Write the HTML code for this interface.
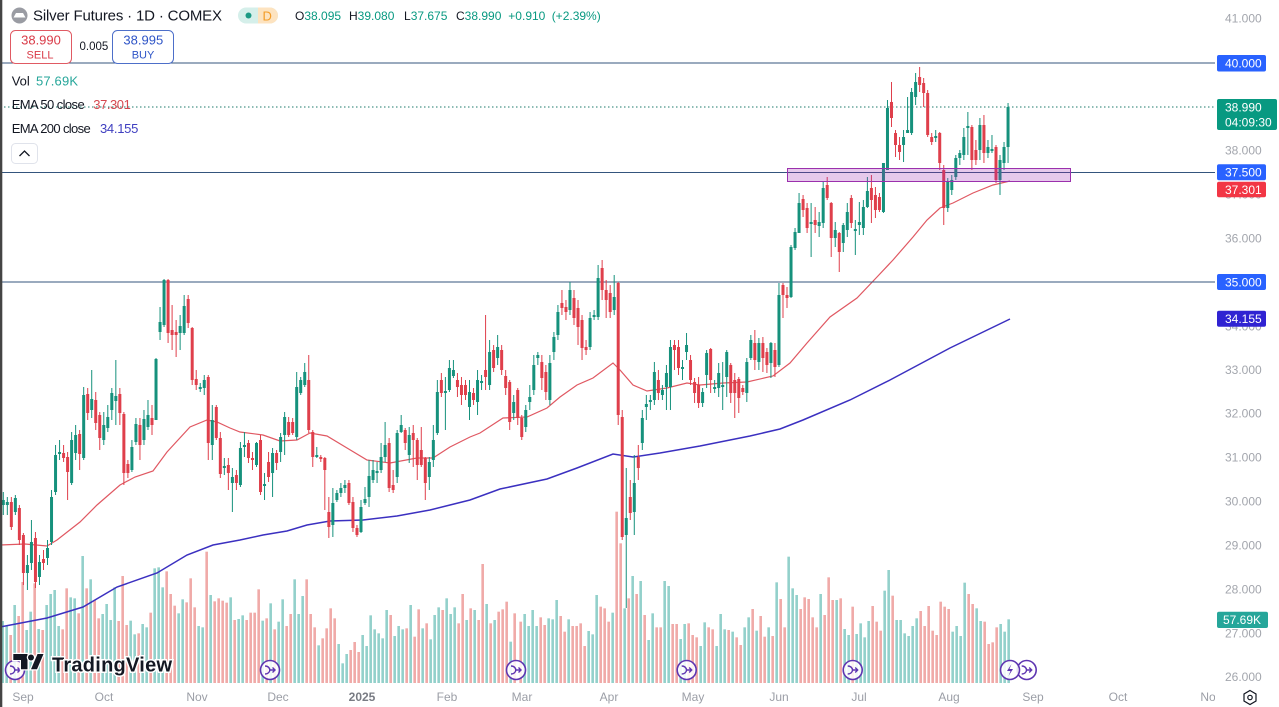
<!DOCTYPE html>
<html><head><meta charset="utf-8">
<style>
html,body{margin:0;padding:0;background:#fff;width:1279px;height:707px;overflow:hidden}
svg{display:block;font-family:"Liberation Sans",Arial,sans-serif}
</style></head><body>
<svg id="c" width="1279" height="707" viewBox="0 0 1279 707" xmlns="http://www.w3.org/2000/svg">
<defs>
<clipPath id="pane"><rect x="0" y="0" width="1215" height="684"/></clipPath>
<clipPath id="taxis"><rect x="0" y="684" width="1215" height="23"/></clipPath>
</defs>
<rect width="1279" height="707" fill="#fff"/>
<g id="vol" clip-path="url(#pane)"></g>
<g clip-path="url(#pane)" fill="none">
<polyline stroke="#3b30c0" stroke-width="1.5" points="0,627 47,618 83,607 117,587 157,573 187,555 213,545 240,540 263,535 287,531 307,525 330,521 363,520 397,516 430,510 450,505 470,500 500,489 547,479 577,468 613,454 633,457 660,453 700,446 750,436 780,429 803,420 850,400 890,380 950,348 1010,319"/>
<polyline stroke="#e05862" stroke-width="1.2" points="0,545 25,544 47,546 57,540 80,522 97,505 120,485 135,477 153,471 167,452 190,427 207,420 217,422 230,428 240,432 263,435 280,441 297,440 310,433 327,436 347,448 367,460 390,463 417,458 433,458 450,447 470,437 480,433 503,418 527,417 547,408 560,397 577,385 593,378 613,363 620,370 633,385 647,391 667,388 687,383 700,385 723,383 747,382 773,376 790,363 807,343 830,317 857,298 877,277 893,260 913,237 927,220 940,208 953,203 973,193 993,185 1010,181"/>
</g>
<g stroke="#34557d" stroke-width="1">
<line x1="0" x2="1215" y1="63" y2="63"/>
<line x1="0" x2="1215" y1="172.5" y2="172.5"/>
<line x1="0" x2="1215" y1="282" y2="282"/>
</g>
<line x1="0" x2="1215" y1="107" y2="107" stroke="#1e7a6b" stroke-width="1" stroke-dasharray="1.5 2.5"/>
<g id="cnd"></g>
<rect x="787.5" y="168.5" width="283" height="13" fill="rgba(156,39,176,0.25)" stroke="#9b30ad" stroke-width="1"/>

<!-- header -->
<circle cx="19.5" cy="15.5" r="8" fill="#9a9ca3"/>
<path d="M13.5 17.5 L16 13 H23 L25.5 17.5 Z" fill="#fff"/>
<text x="33" y="20.3" font-size="15" fill="#131722" textLength="189">Silver Futures · 1D · COMEX</text>
<rect x="238" y="7.5" width="40" height="16" rx="8" fill="#d5efea"/>
<path d="M258 7.5 H270 A8 8 0 0 1 270 23.5 H258 Z" fill="#fde3c0"/>
<circle cx="248.5" cy="15.5" r="3" fill="#1c9a84"/>
<text x="262.5" y="20.3" font-size="13" fill="#f39c28">D</text>
<g font-size="12">
<text x="295" y="19.8" fill="#131722">O<tspan fill="#089981">38.095</tspan></text>
<text x="349" y="19.8" fill="#131722">H<tspan fill="#089981">39.080</tspan></text>
<text x="404" y="19.8" fill="#131722">L<tspan fill="#089981">37.675</tspan></text>
<text x="456" y="19.8" fill="#131722">C<tspan fill="#089981">38.990</tspan></text>
<text x="508.3" y="19.8" fill="#089981">+0.910</text>
<text x="551.7" y="19.8" fill="#089981">(+2.39%)</text>
</g>
<rect x="10.5" y="30.5" width="61" height="33" rx="5" fill="#fff" stroke="#e05a63"/>
<text x="41" y="44.5" font-size="13" fill="#d93a47" text-anchor="middle">38.990</text>
<text x="40" y="58.3" font-size="11" fill="#d93a47" text-anchor="middle">SELL</text>
<text x="79.5" y="50" font-size="11.5" fill="#131722">0.005</text>
<rect x="112.5" y="30.5" width="61" height="33" rx="5" fill="#fff" stroke="#4d6fc9"/>
<text x="143.3" y="44.5" font-size="13" fill="#2f55c7" text-anchor="middle">38.995</text>
<text x="143" y="58.3" font-size="11" fill="#2f55c7" text-anchor="middle">BUY</text>

<!-- legend -->
<g font-size="13">
<text x="11.7" y="85.5" fill="#131722">Vol</text>
<text x="36" y="85.5" fill="#26a69a" textLength="42">57.69K</text>
<text x="11.7" y="109" fill="#131722" textLength="73">EMA 50 close</text>
<text x="93.3" y="109" fill="#d4484f" textLength="37.5">37.301</text>
<text x="11.7" y="133" fill="#131722" textLength="79">EMA 200 close</text>
<text x="100" y="133" fill="#3f3fc0" textLength="38.3">34.155</text>
</g>
<rect x="11.5" y="143.5" width="26" height="20" rx="4" fill="#fff" stroke="#e0e3eb"/>
<path d="M19.5 156 L24.5 151 L29.5 156" stroke="#131722" stroke-width="1.3" fill="none"/>

<!-- price axis -->
<g font-size="12" fill="#a3a6ad">
<text x="1225" y="22.6">41.000</text>
<text x="1225" y="154.5">38.000</text>
<text x="1225" y="198.3">37.000</text>
<text x="1225" y="242.3">36.000</text>
<text x="1225" y="330.3">34.000</text>
<text x="1225" y="374">33.000</text>
<text x="1225" y="417.6">32.000</text>
<text x="1225" y="461.5">31.000</text>
<text x="1225" y="505.5">30.000</text>
<text x="1225" y="549.5">29.000</text>
<text x="1225" y="593.5">28.000</text>
<text x="1225" y="637.5">27.000</text>
<text x="1225" y="680.8">26.000</text>
</g>
<g font-size="12" fill="#fff">
<rect x="1217" y="55" width="49" height="16.5" rx="2" fill="#2962ff"/>
<text x="1225" y="67.5">40.000</text>
<rect x="1217" y="99" width="60" height="31" rx="2" fill="#089981"/>
<text x="1225" y="111.3">38.990</text>
<text x="1225" y="126.3">04:09:30</text>
<rect x="1217" y="164.3" width="49" height="16" rx="2" fill="#2962ff"/>
<text x="1225" y="176.6">37.500</text>
<rect x="1217" y="181.7" width="49" height="15.6" rx="2" fill="#f23645"/>
<text x="1225" y="193.8">37.301</text>
<rect x="1217" y="274" width="49" height="16" rx="2" fill="#2962ff"/>
<text x="1225" y="286.3">35.000</text>
<rect x="1217" y="310.7" width="49" height="16" rx="2" fill="#3023d2"/>
<text x="1225" y="323">34.155</text>
<rect x="1217" y="611.7" width="51" height="16.3" rx="2" fill="#26a69a"/>
<text x="1223" y="624.2">57.69K</text>
</g>

<!-- time axis -->
<g font-size="12" fill="#9b9ea6" text-anchor="middle" clip-path="url(#taxis)">
<text x="23" y="701">Sep</text>
<text x="104" y="701">Oct</text>
<text x="197" y="701">Nov</text>
<text x="278" y="701">Dec</text>
<text x="362" y="701" fill="#787b83" font-weight="bold">2025</text>
<text x="447" y="701">Feb</text>
<text x="522" y="701">Mar</text>
<text x="609" y="701">Apr</text>
<text x="693" y="701">May</text>
<text x="779" y="701">Jun</text>
<text x="859" y="701">Jul</text>
<text x="949" y="701">Aug</text>
<text x="1033" y="701">Sep</text>
<text x="1118" y="701">Oct</text>
<text x="1211" y="701">Nov</text>
</g>
<path d="M1250 690.5 L1256 694 L1256 701 L1250 704.5 L1244 701 L1244 694 Z" fill="none" stroke="#131722" stroke-width="1.2"/>
<circle cx="1250" cy="697.5" r="2.2" fill="none" stroke="#131722" stroke-width="1.2"/>

<!-- event markers -->
<g id="ev"></g>

<!-- TV logo -->
<g fill="#131722" stroke="#fff" stroke-width="2.5" paint-order="stroke">
<path d="M13.3 654 H27.5 V669.3 H21 V660 H13.3 Z"/>
<circle cx="31" cy="657.5" r="3"/>
<path d="M37.5 654 H43.5 L37 669.3 H31 Z"/>
<text x="52" y="671.5" font-size="20" font-weight="bold" textLength="120" stroke-width="3">TradingView</text>
</g>

<rect x="0" y="0" width="2.3" height="707" fill="#444"/>
</svg>
<script>
(function(){
var C=[
[1,500,505,492,515],[1,502,505,497,515],[0,502,527,497,530],[1,498,512,495,515],[0,508,540,505,545],[0,535,573,533,585],[1,565,573,555,590],[1,542,563,520,570],[0,538,582,532,588],[1,562,577,555,585],
[0,559,563,550,570],[1,548,558,540,565],[1,497,542,490,545],[1,455,492,445,495],[1,452,454,440,460],[0,453,458,445,462],[0,457,472,452,500],[1,440,483,432,485],[1,435,453,425,460],[0,434,454,430,470],
[1,395,458,387,460],[0,394,413,388,420],[1,399,410,370,418],[0,400,423,392,430],[0,415,438,412,450],[1,425,440,412,445],[1,417,428,405,432],[1,393,410,388,420],[1,396,401,360,425],[0,394,413,388,425],
[0,414,473,412,485],[0,464,473,460,478],[1,447,470,440,472],[1,424,442,418,445],[0,425,445,418,460],[1,419,440,410,445],[1,415,427,400,430],[0,418,425,405,435],[1,359,420,358,420],[1,322,332,307,340],
[1,280,325,279,327],[0,280,333,279,343],[0,330,335,305,350],[0,332,335,320,357],[1,326,333,315,350],[1,306,333,295,335],[0,299,323,295,328],[0,328,380,327,385],[0,379,385,370,390],[1,387,389,383,392],
[1,380,388,375,395],[0,377,443,375,460],[1,420,445,405,460],[0,407,438,405,440],[0,438,474,432,478],[1,466,468,458,475],[0,465,473,458,490],[1,477,483,468,512],[0,475,483,470,490],
[1,448,485,442,487],[1,445,447,432,457],[0,443,458,440,463],[0,458,460,452,470],[1,443,465,442,467],[0,440,492,435,495],[1,484,486,473,500],[0,462,477,452,482],[1,453,473,448,497],[0,453,463,450,470],
[1,437,452,433,462],[1,417,435,412,455],[0,422,435,417,437],[0,422,433,418,435],[1,387,437,372,440],[1,380,393,377,395],[1,372,385,363,387],[0,380,430,355,433],[0,432,457,430,467],[1,455,457,447,458],
[0,457,459,455,462],[0,458,470,457,510],[0,512,527,497,538],[1,503,525,488,537],[1,493,500,490,502],[1,488,493,483,497],[1,485,488,480,493],[0,483,503,480,505],[0,502,528,497,532],[0,528,535,525,537],
[1,507,532,500,533],[1,499,503,487,505],[1,476,497,460,507],[1,470,480,460,483],[1,471,473,462,483],[1,457,470,443,473],[1,445,457,422,462],[0,443,488,438,492],[0,485,490,470,493],[1,433,477,430,483],
[1,425,432,415,433],[0,430,443,428,450],[1,435,455,427,463],[0,433,440,425,467],[0,440,465,438,480],[0,450,465,427,467],[0,458,483,457,500],[1,462,477,457,490],[1,440,460,425,467],[1,392,433,380,435],
[0,380,393,373,397],[1,391,393,377,430],[1,368,390,360,392],[1,370,376,360,378],[0,380,387,373,397],[0,385,395,377,405],
[0,385,395,380,400],[1,392,407,380,420],[0,393,400,388,405],[1,380,402,370,415],[1,381,383,375,390],[0,370,377,315,390],[1,352,385,340,390],[0,350,368,345,372],[1,347,358,335,365],[0,350,370,345,375],
[0,376,388,370,395],[0,382,422,380,430],[1,402,413,395,420],[0,390,418,388,425],[0,418,437,415,440],[1,410,427,405,432],[1,397,402,385,410],[1,365,390,355,395],[1,355,358,352,365],[0,362,378,355,390],
[0,372,392,365,400],[1,363,400,355,405],[1,337,352,332,360],[1,312,335,305,340],[0,303,308,290,315],[0,307,312,300,320],[1,290,310,282,315],[0,298,318,290,325],[0,308,327,300,345],[0,320,348,315,360],
[0,347,350,340,355],[1,318,347,312,350],[1,315,317,310,320],[1,278,317,265,320],[0,268,290,260,300],[0,290,300,280,318],[0,293,312,285,318],[1,297,310,275,315],[0,283,415,282,425],[0,417,537,410,540],
[1,518,535,468,608],[0,497,513,480,520],[1,483,512,455,535],[0,457,468,445,480],[1,418,443,410,450],[1,404,407,395,420],[1,400,402,395,410],[1,372,400,362,405],[0,380,393,370,400],[1,390,395,385,400],
[1,373,387,365,410],[1,347,387,340,410],[0,345,350,340,370],[0,347,368,340,375],[1,367,369,360,380],[1,345,352,333,360],
[0,360,380,355,385],[0,382,393,378,403],[0,385,403,377,408],[1,392,403,388,407],[1,353,375,350,388],[0,349,380,348,393],[1,387,389,380,393],[1,373,388,363,397],[1,385,387,362,410],[1,352,377,350,397],
[0,365,393,363,403],[0,380,393,373,418],[0,379,398,377,413],[0,388,392,385,395],[1,362,393,358,402],[1,340,358,335,360],[0,343,360,330,370],[1,343,362,338,370],[0,343,358,337,372],[0,352,365,348,373],
[1,343,363,342,378],[0,350,367,343,377],[1,295,365,283,367],[0,285,295,283,318],[0,295,298,287,308],[1,247,297,245,298],[1,232,248,228,250],[1,203,233,193,233],[0,199,210,195,217],[0,208,228,203,233],
[1,222,224,203,257],[0,220,225,207,233],[1,222,226,212,237],[1,188,223,182,228],[0,185,198,177,200],[0,203,238,202,257],[1,230,238,222,247],[0,233,252,232,272],[1,225,243,223,252],[1,212,230,203,237],
[0,198,223,195,228],[1,229,231,220,255],[1,222,225,202,235],[1,207,228,200,235],[1,191,207,177,208],[0,188,200,175,223],[0,195,210,187,218],[0,197,210,193,212],[1,163,212,163,213],[1,108,170,100,170],
[0,102,118,82,127],[0,133,145,130,157],[0,145,152,137,160],[1,137,145,130,162],[1,130,133,97,133],[1,92,133,88,135],[1,82,97,73,105],[0,77,85,67,92],[0,83,93,78,107],[0,93,135,90,137],
[0,137,142,133,145],[1,136,138,130,142],[0,133,163,132,170],[0,170,208,165,225],[1,182,208,178,212],[1,180,190,175,195],[1,158,177,155,180],[1,153,158,150,165],[1,137,155,128,160],[1,126,128,112,155],
[0,127,160,125,170],[0,150,160,140,165],[1,125,150,118,160],[0,125,153,115,163],[1,147,153,140,158],[1,149,151,135,153],[0,147,180,145,183],[1,160,180,155,195],[1,147,163,142,170],[1,107,147,103,163]
];
var UP="#16917c",DN="#df3f4b";
var s="";
for(var i=0;i<C.length;i++){
 var d=C[i],x=3.3+4.019*i,col=d[0]?UP:DN;
 s+='<line x1="'+x+'" x2="'+x+'" y1="'+d[3]+'" y2="'+d[4]+'" stroke="'+col+'" stroke-width="1"/>';
 var h=Math.max(d[2]-d[1],1.2);
 s+='<rect x="'+(x-1.5)+'" y="'+d[1]+'" width="3" height="'+h+'" fill="'+col+'"/>';
}
document.getElementById("cnd").innerHTML=s;

var V1="g243 g258 r285 g195 r228 r126 g270 g215 r130 g267 r270 g195 g162 g150 g258 r268 r145 g172 g175 r220 g48 r145 g118 r180 r235 g222 g192 g240 g142 r243 r108 r255 g242 g283 r280 g252 g262 r218 g85 g82 g142 r94 r162 r197 g220 g178 r187 r115 r202 g258 g262 r35 g165 r184 r175 r182 r188 g172 r240 g237 g226 r240 r218 r218 r148 g242 r235 g190 r268 g245 g178 r258 r222 g118 g222 g168 r118 r222 r262 g316 r295 r265 r205 r235 g312 g370 g342 r330 r306 r336 g285 g318 g226 g268 g280 g295 g210 r225 g288 g258 g268 r265 g195 r290 r208 g265 r250 g298 g225 g202 r210 g175 g222 g202 r250 r162 g240 r205 g210 r240 r72 g192 r250 g240 r215 r208 r185 g305 r220".split(" ");
var V2="r245 g222 g258 g210 g258 r232 r255 g235 g238 g180 r228 r275 g238 r258 r258 r250 r318 g273 g283 g165 r200 r205 r245 g218 r-85 r10 g205 r175 g108 r162 g123 r225 g300 g220 r262 r262 g123 g138 r252 r252 g297 g252 r250 r285 r292 g318 g247 r262 r268 g318 g222 g268 r270 g275 r292 r315 g262 g232 r207 g272 r228 r290 g262 r288 g127 r177 r262 g50 g145 g165 r207 r172 r177 r232 r262 g162 r225 r112 r180 g180 r175 g267 g285 r200 g282 g250 g292 g243 r198 r245 r272 g152 g90 r167 g240 g240 g280 g288 g258 g235 r213 r258 r198 r272 r285 r185 r200 r207 g275 g258 g288 g128 r162 r192 g205 g243 r245 r312 r307 r262 g252 g275 g238".split(" ");
var VG="#93d0cb",VR="#f0aaa8",BASE=683;
var v="";
function bar(x,t){var c=t.charAt(0)=="g"?VG:VR;var y=540+parseFloat(t.slice(1))/3;v+='<rect x="'+(x-1.3)+'" y="'+y+'" width="2.6" height="'+(BASE-y)+'" fill="'+c+'"/>';}
for(var k=0;k<V1.length;k++)bar((8+12*k)/3,V1[k]);
for(var k=0;k<V2.length;k++)bar(520+(2+12*k)/3,V2[k]);
document.getElementById("vol").innerHTML=v;

var ev="",xs=[15,270,516,686.7,852.7,1026.7];
for(var j=0;j<xs.length;j++){
 var cx=xs[j];
 ev+='<g transform="translate('+cx+',670)"><circle r="9.5" fill="rgba(255,255,255,0.85)" stroke="#5e35b1" stroke-width="1.6"/><path d="M-5,-4 Q-1,-4 0,0 Q-1,4 -5,4 M-1,0 H5 M2.5,-2.5 L5,0 L2.5,2.5" fill="none" stroke="#5e35b1" stroke-width="1.4"/></g>';
}
ev+='<g transform="translate(1010,670)"><circle r="9.5" fill="rgba(255,255,255,0.85)" stroke="#5e35b1" stroke-width="1.6"/><path d="M1.5,-6 L-3,1 H0.5 L-1.5,6 L3,-1 H-0.5 Z" fill="#5e35b1"/></g>';
document.getElementById("ev").innerHTML=ev;
})();
</script>
</body></html>
